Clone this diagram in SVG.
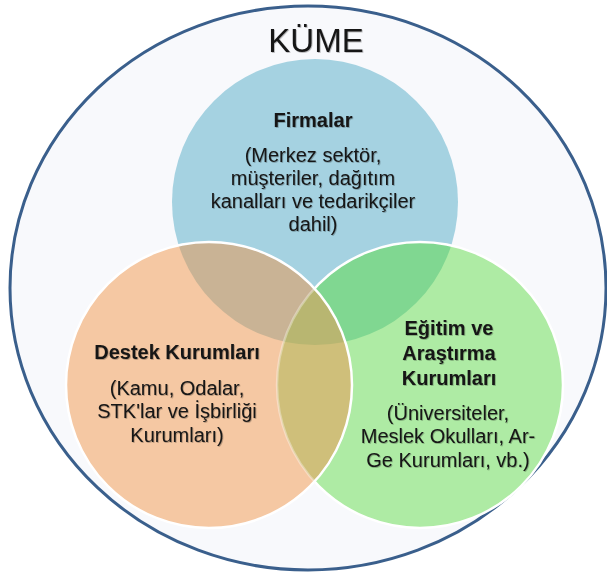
<svg xmlns="http://www.w3.org/2000/svg" width="607" height="574" viewBox="0 0 607 574">
  <style>
    .t { font-family: "Liberation Sans", Arial, sans-serif; fill: #151515; text-anchor: middle; filter: url(#shadow); }
    .title { font-size: 20px; font-weight: bold; }
    .body { font-size: 20px; }
    .kume { font-size: 33px; }
    .edge { fill: none; stroke: #ffffff; stroke-width: 2.5; }
  </style>
  <defs>
    <filter id="shadow" x="-10%" y="-30%" width="120%" height="160%">
      <feDropShadow dx="0.8" dy="0.8" stdDeviation="0.6" flood-color="#000000" flood-opacity="0.3"/>
    </filter>
    <clipPath id="clipO"><circle cx="209" cy="385" r="143"/></clipPath>
    <clipPath id="clipG"><circle cx="420" cy="385" r="143"/></clipPath>
    <clipPath id="clipNotO"><path clip-rule="evenodd" d="M0 0H607V574H0Z M66 385a143 143 0 1 0 286 0a143 143 0 1 0 -286 0Z"/></clipPath>
  </defs>

  <g id="node-kume">
    <ellipse cx="308" cy="288" rx="298" ry="282" fill="#f8f9fc" stroke="#3a5f8c" stroke-width="3"/>
    <text class="t kume" x="316" y="52">KÜME</text>
  </g>

  <g id="node-firmalar">
    <circle cx="315" cy="202" r="143" fill="#a5d2e1"/>
  </g>
  <g id="node-egitim-fill">
    <circle cx="420" cy="385" r="143" fill="#aeeba4"/>
  </g>
  <g id="node-destek-fill">
    <circle cx="209" cy="385" r="143" fill="#f5c8a3"/>
  </g>

  <g id="overlaps">
    <circle cx="315" cy="202" r="143" fill="#80d791" clip-path="url(#clipG)"/>
    <circle cx="315" cy="202" r="143" fill="#c9b395" clip-path="url(#clipO)"/>
    <circle cx="209" cy="385" r="143" fill="#cfbf7a" clip-path="url(#clipG)"/>
    <g clip-path="url(#clipG)">
      <circle cx="315" cy="202" r="143" fill="#b8b671" clip-path="url(#clipO)"/>
    </g>
  </g>

  <g id="edges">
    <circle class="edge" cx="420" cy="385" r="143" clip-path="url(#clipNotO)"/>
    <circle class="edge" cx="420" cy="385" r="143" clip-path="url(#clipO)" stroke-opacity="0.35"/>
    <circle class="edge" cx="209" cy="385" r="143"/>
  </g>

  <g id="node-firmalar-text">
    <text class="t title" x="313" y="127">Firmalar</text>
    <text class="t body" x="313" y="162">(Merkez sektör,</text>
    <text class="t body" x="313" y="185">müşteriler, dağıtım</text>
    <text class="t body" x="313" y="208">kanalları ve tedarikçiler</text>
    <text class="t body" x="313" y="231">dahil)</text>
  </g>

  <g id="node-destek">
    <text class="t title" x="177" y="359">Destek Kurumları</text>
    <text class="t body" x="177" y="395">(Kamu, Odalar,</text>
    <text class="t body" x="177" y="418">STK'lar ve İşbirliği</text>
    <text class="t body" x="177" y="442">Kurumları)</text>
  </g>

  <g id="node-egitim">
    <text class="t title" x="449" y="335">Eğitim ve</text>
    <text class="t title" x="449" y="360">Araştırma</text>
    <text class="t title" x="449" y="385">Kurumları</text>
    <text class="t body" x="448" y="420">(Üniversiteler,</text>
    <text class="t body" x="448" y="443">Meslek Okulları, Ar-</text>
    <text class="t body" x="448" y="467">Ge Kurumları, vb.)</text>
  </g>
</svg>
